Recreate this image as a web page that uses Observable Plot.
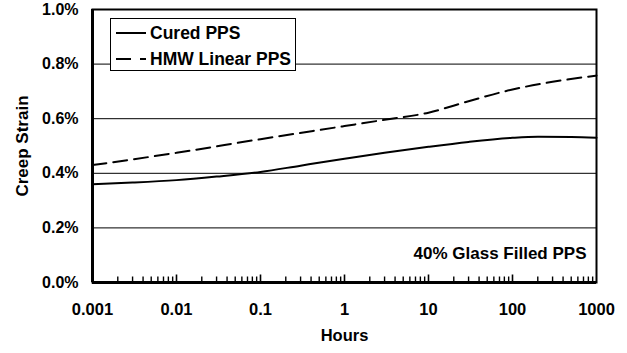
<!DOCTYPE html>
<html>
<head>
<meta charset="utf-8">
<script src="https://cdn.jsdelivr.net/npm/d3@7"></script>
<script src="https://cdn.jsdelivr.net/npm/@observablehq/plot@0.6"></script>
<style>
  html, body { margin: 0; padding: 0; background: #fff; }
  #chart svg { display: block; }
</style>
</head>
<body>
<div id="chart"></div>
<script>
// ---- data (strain in %) ----
const curedHours  = [0.001, 0.003, 0.01, 0.03, 0.1, 0.3, 1, 3, 10, 30, 100, 200, 500, 1000];
const curedStrain = [0.360, 0.366, 0.375, 0.388, 0.405, 0.428, 0.453, 0.475, 0.497, 0.515, 0.530, 0.534, 0.533, 0.530];
const hmwHours    = [0.001, 0.01, 0.1, 1, 3, 10, 30, 100, 300, 1000];
const hmwStrain   = [0.430, 0.475, 0.525, 0.573, 0.596, 0.622, 0.664, 0.707, 0.735, 0.758];
const seriesNames = ["Cured PPS", "HMW Linear PPS"];
const xTicks = [0.001, 0.01, 0.1, 1, 10, 100, 1000];
const yTicks = [0, 0.2, 0.4, 0.6, 0.8, 1.0];
const gridY  = [0.2, 0.4, 0.6, 0.8];
const annotation = "40% Glass Filled PPS";
const xLabel = "Hours";
const yLabel = "Creep Strain";

const cured = curedHours.map((h, i) => ({h, v: curedStrain[i]}));
const hmw = hmwHours.map((h, i) => ({h, v: hmwStrain[i]}));
const minorTicks = [];
for (let k = -3; k < 3; k++) for (let m = 2; m <= 9; m++) minorTicks.push(m * Math.pow(10, k));
const majorTicks = xTicks.slice(1, -1);

const FONT = "'Liberation Sans', Arial, Helvetica, sans-serif";
const W = 627, H = 353, ML = 92, MR = 31, MT = 9, MB = 71;
const pxPerUnit = (H - MT - MB) / 1.0;

const plot = Plot.plot({
  width: W, height: H,
  marginLeft: ML, marginRight: MR, marginTop: MT, marginBottom: MB,
  style: {fontFamily: FONT, fontWeight: "bold", background: "#fff", color: "#000"},
  x: {type: "log", domain: [0.001, 1000]},
  y: {domain: [0, 1.0]},
  marks: [
    Plot.ruleY(gridY, {stroke: "#000", strokeWidth: 1}),
    Plot.ruleX(minorTicks, {x: d => d, y1: 0, y2: 5.5 / pxPerUnit, stroke: "#000", strokeWidth: 1.4}),
    Plot.ruleX(majorTicks, {x: d => d, y1: 0, y2: 7.5 / pxPerUnit, stroke: "#000", strokeWidth: 1.6}),
    Plot.line(cured, {x: "h", y: "v", curve: "monotone-x", stroke: "#000", strokeWidth: 2}),
    Plot.line(hmw, {x: "h", y: "v", curve: "monotone-x", stroke: "#000", strokeWidth: 2, strokeDasharray: "14,7"}),
    Plot.frame({stroke: "#000", strokeWidth: 2}),
    Plot.ruleX([0.001], {stroke: "#000", strokeWidth: 3}),
    Plot.ruleY([0], {stroke: "#000", strokeWidth: 3}),
    Plot.axisX({ticks: xTicks, tickFormat: d => String(d), tickSize: 0, tickPadding: 21, fontSize: 16.5, fontWeight: "bold", label: null}),
    Plot.axisY({ticks: yTicks, tickFormat: d => d.toFixed(1) + "%", tickSize: 0, tickPadding: 14, fontSize: 16, fontWeight: "bold", label: null}),
    Plot.text([annotation], {frameAnchor: "bottom-right", dx: -10, dy: -24, textAnchor: "end", fontSize: 17, fontWeight: "bold", fill: "#000"}),
    Plot.text([xLabel], {frameAnchor: "bottom", dy: 58, textAnchor: "middle", fontSize: 16.5, fontWeight: "bold", fill: "#000"}),
    Plot.text([yLabel], {frameAnchor: "left", dx: -70, textAnchor: "middle", rotate: -90, fontSize: 17, fontWeight: "bold", fill: "#000"})
  ]
});

// legend box (layout element, over the gridlines)
const svg = d3.select(plot);
const lg = svg.append("g").attr("font-family", FONT).attr("font-weight", "bold")
  .attr("font-size", 17.5).attr("text-anchor", "start");
lg.append("rect").attr("x", 110.5).attr("y", 18.5).attr("width", 185).attr("height", 52)
  .attr("fill", "#fff").attr("stroke", "#000").attr("stroke-width", 1);
const dashes = [null, "15,9"];
seriesNames.forEach((name, i) => {
  const y = 33 + i * 26;
  lg.append("line").attr("x1", 116).attr("x2", 146).attr("y1", y).attr("y2", y)
    .attr("stroke", "#000").attr("stroke-width", 2).attr("stroke-dasharray", dashes[i]);
  lg.append("text").attr("x", 150).attr("y", y).attr("dy", "0.35em").attr("fill", "#000")
    .attr("text-anchor", "start").text(name);
});

document.getElementById("chart").appendChild(plot);
</script>
</body>
</html>
